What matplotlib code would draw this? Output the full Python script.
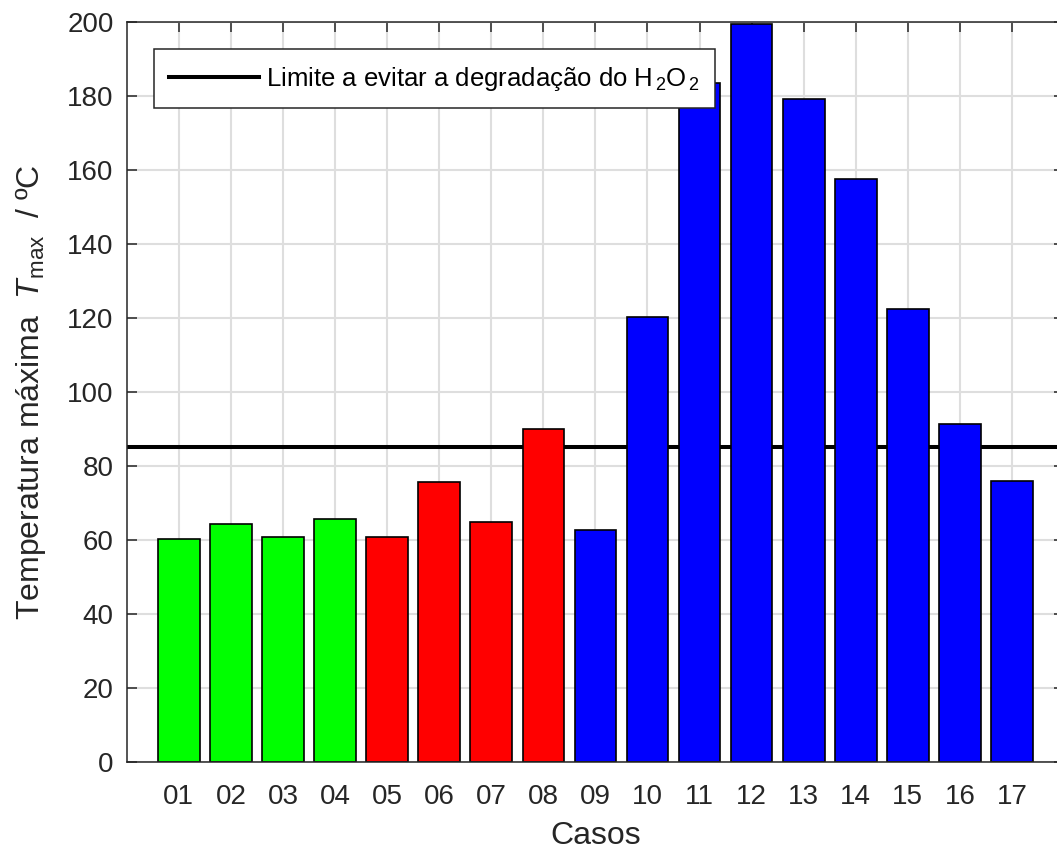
import numpy as np
import matplotlib
matplotlib.use('Agg')
import matplotlib.pyplot as plt

plt.rcParams['font.family'] = ['Liberation Sans', 'DejaVu Sans']
plt.rcParams['mathtext.fontset'] = 'custom'
plt.rcParams['mathtext.rm'] = 'Liberation Sans'
plt.rcParams['mathtext.it'] = 'Liberation Sans:italic'
plt.rcParams['mathtext.bf'] = 'Liberation Sans:bold'

# dados dos casos
casos = ['01', '02', '03', '04', '05', '06', '07', '08', '09',
         '10', '11', '12', '13', '14', '15', '16', '17']
tmax = [60.2, 64.2, 60.8, 65.6, 60.8, 75.6, 64.7, 89.9, 62.6,
        120.3, 183.5, 199.4, 179.2, 157.5, 122.3, 91.3, 75.9]
grupo = ['g'] * 4 + ['r'] * 4 + ['b'] * 9
limite = 85

cores = {'g': (0, 1, 0), 'r': (1, 0, 0), 'b': (0, 0, 1)}
eixo = '#262626'

fig = plt.figure(figsize=(10.57, 8.49), dpi=100)
ax = fig.add_axes([0.1199, 0.1028, 0.8868, 0.8716])

x = np.arange(1, len(casos) + 1)
ax.axhline(limite, color='black', lw=2.9, zorder=1.5,
           label='Limite a evitar a degradação do H$_{\\,2}$O$_{\\,2}$')
ax.bar(x, tmax, width=0.8, color=[cores[g] for g in grupo],
       edgecolor='black', linewidth=1.2, zorder=2)

ax.set_xlim(0, 18)
ax.set_ylim(0, 200)
ax.set_xticks(x)
ax.set_xticklabels(casos)
ax.set_yticks(np.arange(0, 201, 20))

ax.set_axisbelow(True)
ax.grid(True, color='#dedede', lw=1.5)
ax.tick_params(direction='in', length=7, width=1.1, colors=eixo,
               labelsize=20, top=True, right=True)
ax.tick_params(axis='x', pad=16)
ax.tick_params(axis='y', pad=9.5)
for s in ax.spines.values():
    s.set_color(eixo)
    s.set_linewidth(1.1)

ax.set_xlabel('Casos', fontsize=23, color=eixo)
ax.set_ylabel('Temperatura máxima  $\\mathit{T}_{\\rm max}$  / ºC',
              fontsize=23, color=eixo)
ax.xaxis.set_label_coords(0.5, -0.080)
ax.yaxis.set_label_coords(-0.084, 0.5)

leg = ax.legend(loc='upper left', bbox_to_anchor=(0.029, 0.9627),
                borderaxespad=0, fontsize=18.5, fancybox=False,
                framealpha=1, handlelength=3.5, handletextpad=0.25,
                borderpad=0.6)
leg.get_frame().set_edgecolor(eixo)
leg.get_frame().set_linewidth(1.1)

fig.savefig('out.png', dpi=100)
